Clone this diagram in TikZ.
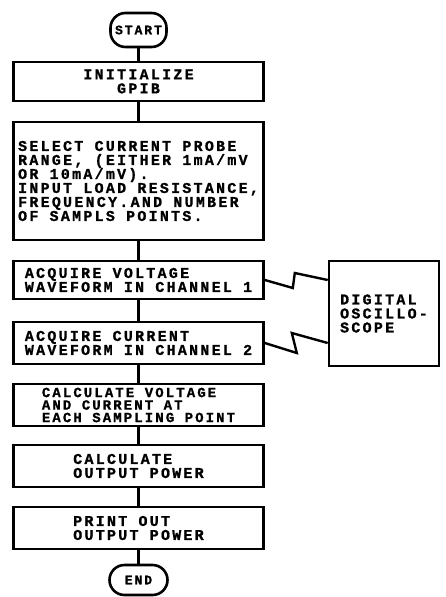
\documentclass[tikz,border=0pt]{standalone}
\usepackage{fontspec}
\newfontfamily\flowfont[LetterSpace=15, BoldFeatures={FakeBold=1}]{Liberation Mono}
\usetikzlibrary{calc, positioning}

\tikzset{
  flowbox/.style={draw, line width=2.6pt, minimum width=250pt, inner sep=0pt,
    align=left, font={\flowfont\bfseries\fontsize{15pt}{14pt}\selectfont}},
  termbox/.style={draw, line width=2.6pt, rounded corners=15pt, inner sep=0pt,
    align=center, font={\flowfont\bfseries\fontsize{13pt}{13pt}\selectfont}},
  flowline/.style={line width=2.4pt},
}

\begin{document}
\begin{tikzpicture}[x=1pt,y=-1pt]
\def\xc{138.5}
\useasboundingbox (0,0) rectangle (445,597);

\node[termbox, minimum width=56pt, minimum height=34pt] (start) at (\xc,30) {START};
\node[flowbox, align=center, minimum height=39pt] (init) at (\xc,81.5) {INITIALIZE\\GPIB};
\node[flowbox, minimum height=118pt] (range) at (\xc,181)
  {SELECT CURRENT PROBE\\RANGE, (EITHER 1mA/mV\\OR 10mA/mV).\\INPUT LOAD RESISTANCE,\\FREQUENCY.AND NUMBER\\OF SAMPLS POINTS.};
\node[flowbox, minimum height=38pt] (volt) at (\xc,280) {ACQUIRE VOLTAGE\\WAVEFORM IN CHANNEL 1};
\node[flowbox, minimum height=42pt] (curr) at (\xc,343) {ACQUIRE CURRENT\\WAVEFORM IN CHANNEL 2};
\node[flowbox, minimum height=42pt, font={\flowfont\bfseries\fontsize{14pt}{12.5pt}\selectfont}] (calcvi) at (\xc,405)
  {CALCULATE VOLTAGE\\AND CURRENT AT\\EACH SAMPLING POINT};
\node[flowbox, minimum height=42pt] (calcp) at (\xc,466) {CALCULATE\\OUTPUT POWER};
\node[flowbox, minimum height=42pt] (printp) at (\xc,528) {PRINT OUT\\OUTPUT POWER};
\node[termbox, minimum width=58pt, minimum height=30pt] (end) at (\xc,580) {END};

\node[flowbox, minimum width=110pt, minimum height=105pt] (scope) at (384,313.5) {DIGITAL\\OSCILLO-\\SCOPE};

\foreach \a/\b in {start/init, init/range, range/volt, volt/curr, curr/calcvi, calcvi/calcp, calcp/printp, printp/end}
  \draw[flowline] (\a.south) -- (\b.north);

\draw[flowline] (volt.east) -- ++(28,8) -- ++(2,-15) -- (scope.west |- volt.east);
\draw[flowline] (curr.east) -- ++(32,10) -- ++(-5,-20) -- (scope.west |- curr.east);
\end{tikzpicture}
\end{document}
